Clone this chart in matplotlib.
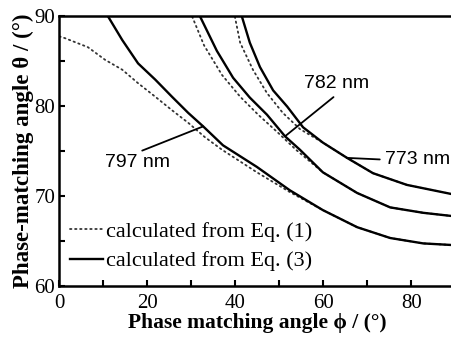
import matplotlib
matplotlib.use("Agg")
import matplotlib.pyplot as plt
from matplotlib.ticker import MultipleLocator

plt.rcParams['font.family'] = ['Liberation Serif', 'DejaVu Serif']
plt.rcParams['mathtext.fontset'] = 'stix'

# ---- data (phi in degrees, theta in degrees) ----
# 797 nm
phi_797_eq3 = [11.1, 14.3, 17.9, 21.8, 25.6, 29.3, 32.7, 37.2, 44.9, 52.4, 59.9, 67.7, 75.2, 82.7, 90.0]
theta_797_eq3 = [89.9, 87.3, 84.7, 82.9, 81.0, 79.2, 77.7, 75.6, 73.2, 70.6, 68.4, 66.5, 65.3, 64.7, 64.5]
phi_797_eq1 = [0.0, 1.3, 6.5, 10.4, 14.3, 17.9, 21.8, 25.6, 29.3, 33.1, 37.0, 44.9, 52.4, 59.9, 67.7, 75.2, 82.7, 90.0]
theta_797_eq1 = [87.7, 87.5, 86.5, 85.1, 84.0, 82.5, 81.0, 79.5, 78.1, 76.5, 75.1, 72.6, 70.4, 68.4, 66.5, 65.3, 64.7, 64.5]

# 782 nm
phi_782_eq3 = [32.0, 35.8, 39.5, 43.3, 47.2, 51.3, 54.7, 59.9, 67.7, 75.2, 82.7, 90.0]
theta_782_eq3 = [89.9, 86.1, 83.1, 80.9, 79.0, 76.6, 75.1, 72.6, 70.3, 68.7, 68.1, 67.7]
phi_782_eq1 = [30.2, 32.9, 37.0, 41.1, 45.2, 49.7, 53.8, 59.9, 67.7, 75.2, 82.7, 90.0]
theta_782_eq1 = [89.9, 86.7, 83.4, 81.0, 79.0, 77.0, 75.1, 72.6, 70.3, 68.7, 68.1, 67.7]

# 773 nm
phi_773_eq3 = [41.5, 43.3, 45.6, 48.6, 51.8, 55.4, 59.9, 65.4, 71.3, 79.0, 90.0]
theta_773_eq3 = [89.9, 87.0, 84.3, 81.7, 79.9, 77.6, 75.9, 74.2, 72.5, 71.2, 70.1]
phi_773_eq1 = [39.9, 41.1, 44.0, 47.2, 50.8, 54.7, 59.9, 65.4, 71.3, 79.0, 90.0]
theta_773_eq1 = [89.9, 87.0, 84.0, 81.4, 79.2, 77.4, 75.9, 74.2, 72.5, 71.2, 70.1]

x_ticks = [0, 20, 40, 60, 80]
y_ticks = [60, 70, 80, 90]
legend_labels = ["calculated from Eq. (1)", "calculated from Eq. (3)"]
wave_labels = ["797 nm", "782 nm", "773 nm"]

# ---- figure ----
fig = plt.figure(figsize=(4.52, 3.38), dpi=100)
ax = fig.add_axes([0.1312, 0.1547, 0.8761, 0.7989])

dot_style = dict(color='#333333', lw=1.3, linestyle=(0, (0.8, 2.0)), dash_capstyle='round')
sol_style = dict(color='black', lw=1.7, solid_joinstyle='round')

l1, = ax.plot(phi_797_eq1, theta_797_eq1, **dot_style)
ax.plot(phi_782_eq1, theta_782_eq1, **dot_style)
ax.plot(phi_773_eq1, theta_773_eq1, **dot_style)
l3, = ax.plot(phi_797_eq3, theta_797_eq3, **sol_style)
ax.plot(phi_782_eq3, theta_782_eq3, **sol_style)
ax.plot(phi_773_eq3, theta_773_eq3, **sol_style)

ax.set_xlim(0, 90)
ax.set_ylim(60, 90)
ax.set_xticks(x_ticks)
ax.set_yticks(y_ticks)
ax.xaxis.set_minor_locator(MultipleLocator(10))
ax.yaxis.set_minor_locator(MultipleLocator(5))
ax.tick_params(which='both', direction='in', width=1.5, length=4, labelsize=15)
ax.tick_params(axis='x', pad=6)
ax.tick_params(axis='y', pad=3)
for s in ['left', 'bottom', 'top']:
    ax.spines[s].set_linewidth(1.8)
ax.spines['right'].set_visible(False)

ax.set_xlabel("Phase matching angle \u03d5 / (\u00b0)", fontsize=15.5, fontweight='bold', labelpad=0)
ax.set_ylabel("Phase-matching angle \u03b8 / (\u00b0)", fontsize=16.5, fontweight='bold', labelpad=0)

# annotations
ann_font = dict(fontsize=14, family=['Liberation Sans', 'DejaVu Sans'])
ax.annotate(wave_labels[0], xy=(phi_797_eq3[6], theta_797_eq3[6]), xytext=(17.7, 73.7),
            ha='center', va='center', **ann_font,
            arrowprops=dict(arrowstyle='-', color='black', lw=1.3, relpos=(0.45, 1.0),
                            shrinkA=1, shrinkB=0))
ax.annotate(wave_labels[1], xy=(phi_782_eq3[5], theta_782_eq3[5]), xytext=(63.1, 82.5),
            ha='center', va='center', **ann_font,
            arrowprops=dict(arrowstyle='-', color='black', lw=1.3, relpos=(0.55, 0.0),
                            shrinkA=3, shrinkB=0))
ax.annotate(wave_labels[2], xy=(phi_773_eq3[7], theta_773_eq3[7]), xytext=(81.5, 74.0),
            ha='center', va='center', **ann_font,
            arrowprops=dict(arrowstyle='-', color='black', lw=1.3, relpos=(0.0, 0.5),
                            shrinkA=2, shrinkB=0))

ax.legend([l1, l3], legend_labels, loc='lower left', bbox_to_anchor=(0.027, 0.053),
          frameon=False, fontsize=16, handlelength=1.5, handletextpad=0.1,
          labelspacing=0.41, borderaxespad=0, borderpad=0)

fig.savefig("out.png", dpi=100)
